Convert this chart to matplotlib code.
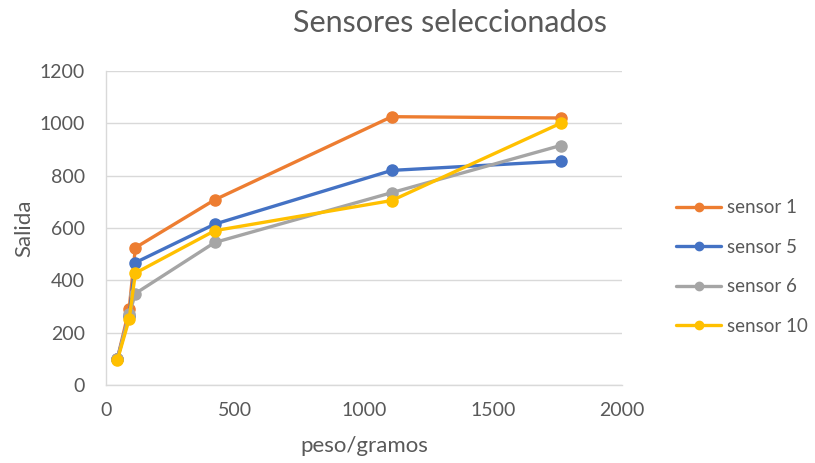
import matplotlib

matplotlib.use('Agg')
import matplotlib.pyplot as plt

# weight (grams) and sensor readings
peso = [44, 90, 114, 422, 1108, 1763]
sensor_1 = [100, 290, 525, 708, 1025, 1020]
sensor_5 = [100, 265, 468, 615, 820, 855]
sensor_6 = [100, 270, 350, 545, 735, 915]
sensor_10 = [95, 252, 428, 590, 705, 1000]

labels = ['sensor 1', 'sensor 5', 'sensor 6', 'sensor 10']
colors = ['#ED7D31', '#4472C4', '#A5A5A5', '#FFC000']
x_ticks = [0, 500, 1000, 1500, 2000]
y_ticks = [0, 200, 400, 600, 800, 1000, 1200]

plt.rcParams['font.family'] = ['Lato', 'DejaVu Sans']
text_color = '#595959'
grid_color = '#d9d9d9'

fig = plt.figure(figsize=(8.15, 4.63), dpi=100)
ax = fig.add_axes([0.130, 0.168, 0.633, 0.679])

for series, label, color in zip([sensor_1, sensor_5, sensor_6, sensor_10], labels, colors):
    ax.plot(peso, series, color=color, linewidth=2.4, marker='o', markersize=8,
            label=label, solid_capstyle='round')

ax.set_xlim(0, 2000)
ax.set_ylim(0, 1200)
ax.set_xticks(x_ticks)
ax.set_yticks(y_ticks)
ax.tick_params(length=0, labelsize=14, labelcolor=text_color)
ax.tick_params(axis='y', pad=15)
ax.tick_params(axis='x', pad=12)
ax.grid(axis='y', color=grid_color, linewidth=1)
ax.set_axisbelow(True)
for side in ['top', 'right']:
    ax.spines[side].set_visible(False)
for side in ['left', 'bottom']:
    ax.spines[side].set_color(grid_color)
    ax.spines[side].set_linewidth(1)

ax.set_xlabel('peso/gramos', fontsize=16, color=text_color, labelpad=12)
ax.set_ylabel('Salida', fontsize=16, color=text_color, labelpad=4)
fig.text(0.552, 0.950, 'Sensores seleccionados', fontsize=22, color=text_color,
         ha='center', va='center')

fig.legend(loc='center left', bbox_to_anchor=(0.830, 0.423), frameon=False,
           fontsize=13.5, labelcolor=text_color, handlelength=2.4, handletextpad=0.3,
           labelspacing=1.2, markerscale=0.75, borderpad=0, borderaxespad=0)

fig.savefig('out.png', dpi=100)
